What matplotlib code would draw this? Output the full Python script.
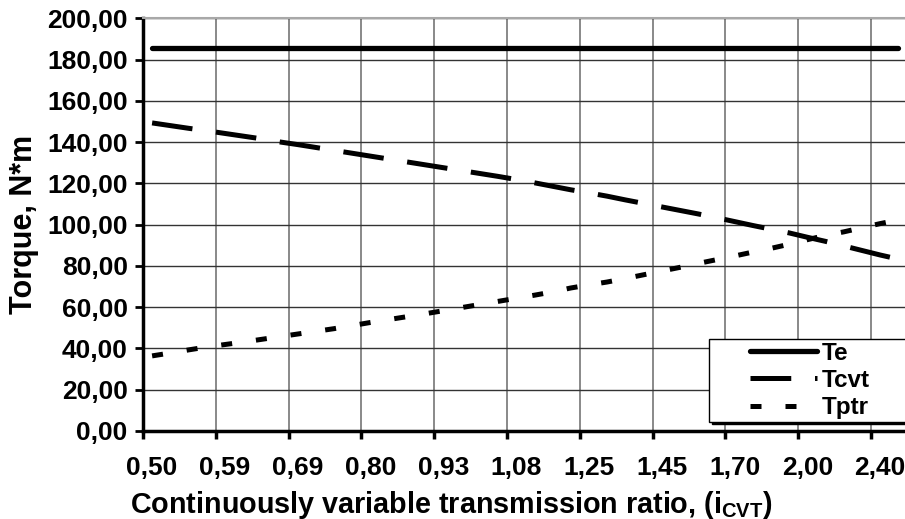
import matplotlib
matplotlib.use("Agg")
import matplotlib.pyplot as plt
from matplotlib.lines import Line2D
from matplotlib.legend_handler import HandlerLine2D

# Torque values, one per ratio step (42 steps, label every 4th)
tick_labels = ["0,50", "0,59", "0,69", "0,80", "0,93", "1,08",
               "1,25", "1,45", "1,70", "2,00", "2,40"]

tcvt = [149.3, 148.0, 146.7, 145.5, 144.2, 142.9, 141.6, 140.1, 138.8, 137.4,
        136.0, 134.6, 133.2, 131.8, 130.4, 129.0, 127.6, 126.2, 124.8, 123.4,
        121.9, 120.3, 118.6, 116.9, 115.4, 113.8, 112.0, 110.3, 108.6, 106.9,
        105.2, 103.4, 101.5, 99.6, 97.8, 96.0, 93.9, 91.9, 89.7, 87.5,
        85.3, 83.3]

tptr = [36.4, 37.8, 39.3, 40.7, 41.9, 43.1, 44.4, 45.7, 47.0, 48.3,
        49.6, 51.1, 52.6, 54.0, 55.4, 56.8, 58.3, 59.8, 61.3, 62.8,
        64.3, 65.8, 67.4, 69.3, 70.8, 72.2, 73.9, 75.7, 77.5, 79.3,
        81.2, 83.0, 84.8, 86.7, 88.5, 90.5, 92.7, 94.8, 96.5, 98.5,
        100.5, 102.3]

te = [185.8] * len(tcvt)

plt.rcParams['font.family'] = ['Liberation Sans', 'DejaVu Sans']
plt.rcParams['font.weight'] = 'bold'

W, H = 905, 519
fig = plt.figure(figsize=(W / 100, H / 100), dpi=100)
ax = fig.add_axes([143 / W, 88 / H, 762 / W, 412.7 / H])

x = list(range(len(tcvt)))
ax.plot(x, te, color='black', lw=3.8, solid_capstyle='round', label='Te', zorder=3)
ax.plot(x, tcvt, color='black', lw=3.6, ls=(0, (8.15, 4.75)), dash_capstyle='butt',
        label='Tcvt', zorder=3)
ax.plot(x, tptr, color='black', lw=3.6, ls=(0, (2.2, 4.8)), dash_capstyle='butt',
        label='Tptr', zorder=3)

cat_w = 18.2  # pixels per category
ax.set_xlim(-0.5, -0.5 + 762 / cat_w)
ax.set_ylim(0, 200)

# labels sit on every 4th category, tick marks on group boundaries
ax.set_xticks(range(0, len(tcvt), 4))
ax.set_xticklabels(tick_labels)
ax.set_xticks([-0.5 + 4 * k for k in range(len(tick_labels))], minor=True)
ax.tick_params(axis='x', which='major', length=0, pad=18, labelsize=19)
ax.tick_params(axis='x', which='minor', length=6, width=2.5, direction='out')

yt = list(range(0, 201, 20))
ax.set_yticks(yt)
ax.set_yticklabels([f"{v:.2f}".replace('.', ',') for v in yt])
ax.tick_params(axis='y', length=6, width=2, pad=5, labelsize=19)

ax.grid(axis='x', which='minor', color='#808080', lw=1.3, zorder=1)
ax.grid(axis='y', which='major', color='#333333', lw=1.0, zorder=1)
ax.set_axisbelow(True)

for s in ('left', 'bottom'):
    ax.spines[s].set_linewidth(2.5)
ax.spines['top'].set_color('#a8a8a8')
ax.spines['top'].set_linewidth(1.5)
ax.spines['right'].set_visible(False)

ax.set_xlabel(r"Continuously variable transmission ratio, (i$\mathregular{_{CVT}}$)",
              fontsize=20.7, fontweight='bold')
ax.xaxis.set_label_coords((451 - 143) / 762, -0.14)
ax.set_ylabel("Torque, N*m", fontsize=22, fontweight='bold')
ax.yaxis.set_label_coords((39 - 143) / 762, 0.5)

fs = 17.5
leg = ax.legend(loc='lower left',
                bbox_to_anchor=(709 / W, (H - 421.7) / H, 0.3, 86.7 / H),
                bbox_transform=fig.transFigure, mode='expand', borderaxespad=0,
                borderpad=0.11, handlelength=4.33, handletextpad=0.2,
                labelspacing=0.17, fancybox=False, edgecolor='black',
                framealpha=1, shadow={'color': 'black', 'alpha': 1},
                fontsize=fs, handler_map={Line2D: HandlerLine2D(xpad=1.58)})
leg.get_frame().set_linewidth(1)
leg.set_zorder(5)

fig.savefig("out.png", dpi=100)
